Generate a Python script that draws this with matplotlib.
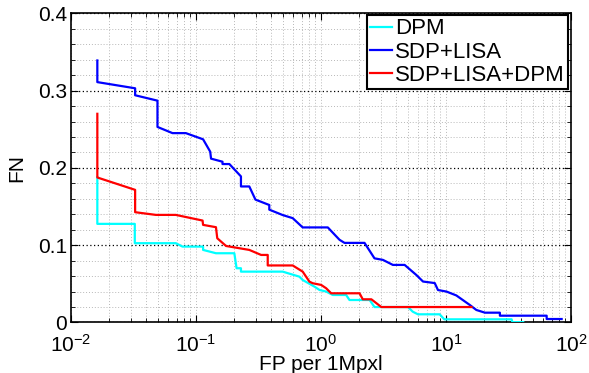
import matplotlib
matplotlib.use("Agg")
import matplotlib.pyplot as plt
from matplotlib.ticker import MultipleLocator, FixedLocator, FixedFormatter, LogLocator

# ---------------- data ----------------
dpm_x = [0.01625, 0.01625, 0.0324, 0.0324, 0.069, 0.078, 0.114, 0.114, 0.1445, 0.2027,
         0.2113, 0.229, 0.229, 0.494, 0.672, 0.714, 0.887, 0.973, 1.10, 1.243, 1.59, 1.69,
         2.45, 2.68, 4.97, 5.42, 5.97, 8.9, 9.7, 33.5, 34.0, 41.5]
dpm_y = [0.188, 0.1276, 0.1276, 0.1026, 0.1026, 0.0982, 0.0982, 0.0939, 0.0896, 0.0896,
         0.0702, 0.0702, 0.0658, 0.0658, 0.0593, 0.055, 0.0464, 0.0421, 0.040, 0.0356, 0.0356,
         0.0291, 0.0291, 0.020, 0.020, 0.014, 0.0106, 0.0106, 0.0041, 0.0041, 0.0005, 0.0005]

sdp_x = [0.01625, 0.01625, 0.0326, 0.0326, 0.0492, 0.0492, 0.0649, 0.083, 0.114, 0.130,
         0.132, 0.163, 0.163, 0.185, 0.229, 0.229, 0.267, 0.299, 0.386, 0.386, 0.494, 0.594,
         0.714, 1.134, 1.407, 1.543, 2.23, 2.68, 3.13, 3.76, 4.67, 5.79, 6.55, 8.13, 8.63,
         10.1, 12.1, 15.5, 17.5, 20.5, 27.0, 27.0, 63.9, 63.9, 84.2]
sdp_y = [0.339, 0.311, 0.303, 0.294, 0.287, 0.253, 0.245, 0.245, 0.237, 0.221,
         0.212, 0.208, 0.205, 0.205, 0.189, 0.176, 0.176, 0.159, 0.152, 0.146, 0.139, 0.135,
         0.123, 0.123, 0.107, 0.103, 0.103, 0.083, 0.081, 0.0745, 0.0745, 0.0615, 0.053, 0.051,
         0.042, 0.040, 0.035, 0.0227, 0.0162, 0.0127, 0.0127, 0.0088, 0.0088, 0.0045, 0.0045]

all_x = [0.01625, 0.01625, 0.0326, 0.0326, 0.0478, 0.069, 0.1129, 0.114, 0.1445, 0.148,
         0.174, 0.267, 0.332, 0.375, 0.375, 0.594, 0.714, 0.809, 0.859, 1.004, 1.10, 1.207,
         2.035, 2.16, 2.53, 3.04, 16.0]
all_y = [0.270, 0.1876, 0.1716, 0.1427, 0.1392, 0.1392, 0.1319, 0.1263, 0.1233, 0.109,
         0.099, 0.0939, 0.0874, 0.0874, 0.0738, 0.0738, 0.0658, 0.0528, 0.0508, 0.0486, 0.0443,
         0.0378, 0.0378, 0.030, 0.030, 0.020, 0.020]

series_labels = ["DPM", "SDP+LISA", "SDP+LISA+DPM"]
y_ticks = [0, 0.1, 0.2, 0.3, 0.4]
y_tick_labels = ["0", "0.1", "0.2", "0.3", "0.4"]
x_label = "FP per 1Mpxl"
y_label = "FN"

# ---------------- style ----------------
plt.rcParams["font.family"] = ["Liberation Sans", "DejaVu Sans"]
plt.rcParams["mathtext.fontset"] = "custom"
plt.rcParams["mathtext.rm"] = "Liberation Sans"
plt.rcParams["mathtext.it"] = "Liberation Sans:italic"
plt.rcParams["mathtext.bf"] = "Liberation Sans:bold"
plt.rcParams["font.size"] = 15

fig = plt.figure(figsize=(5.89, 3.73), dpi=100)
ax = fig.add_axes([0.1205, 0.1354, 0.8489, 0.8289])

ax.plot(dpm_x, dpm_y, color="#00ffff", lw=1.6, label=series_labels[0], zorder=3)
ax.plot(sdp_x, sdp_y, color="#0000ff", lw=1.6, label=series_labels[1], zorder=3)
ax.plot(all_x, all_y, color="#ff0000", lw=1.6, label=series_labels[2], zorder=4)

ax.set_xscale("log")
ax.set_xlim(1e-2, 1e2)
ax.set_ylim(0, 0.4)
ax.xaxis.set_major_locator(LogLocator(base=10, numticks=10))
ax.xaxis.set_minor_locator(LogLocator(base=10, subs=range(2, 10), numticks=20))
ax.yaxis.set_major_locator(FixedLocator(y_ticks))
ax.yaxis.set_major_formatter(FixedFormatter(y_tick_labels))
ax.yaxis.set_minor_locator(MultipleLocator(0.02))

dot = (0, (1, 2))
ax.grid(which="minor", color="#b8b8b8", linestyle=dot, lw=0.7)
ax.grid(which="major", axis="x", color="#b8b8b8", linestyle=dot, lw=0.7)
ax.grid(which="major", axis="y", color="black", linestyle=dot, lw=0.9)
ax.set_axisbelow(True)

ax.tick_params(which="both", direction="in", top=True, right=True, colors="black")
ax.tick_params(which="major", length=5, width=0.8, labelsize=15)
ax.tick_params(axis="y", which="major", pad=3)
ax.tick_params(axis="x", which="major", pad=8, labelsize=15)
ax.tick_params(which="minor", length=3, width=0.6)
for s in ax.spines.values():
    s.set_linewidth(1.2)
    s.set_color("black")

ax.set_xlabel(x_label, fontsize=15)
ax.set_ylabel(y_label, fontsize=15)
ax.xaxis.set_label_coords(0.5, -0.105)
ax.yaxis.set_label_coords(-0.09, 0.5)

leg = ax.legend(loc="upper right", bbox_to_anchor=(0.994, 0.9945), fontsize=16,
                handlelength=1.0, handletextpad=0.12, labelspacing=0.1,
                borderpad=0.15, borderaxespad=0.0, fancybox=False, framealpha=1.0,
                edgecolor="black")
leg.get_frame().set_linewidth(1.5)

fig.savefig("out.png", dpi=100)
